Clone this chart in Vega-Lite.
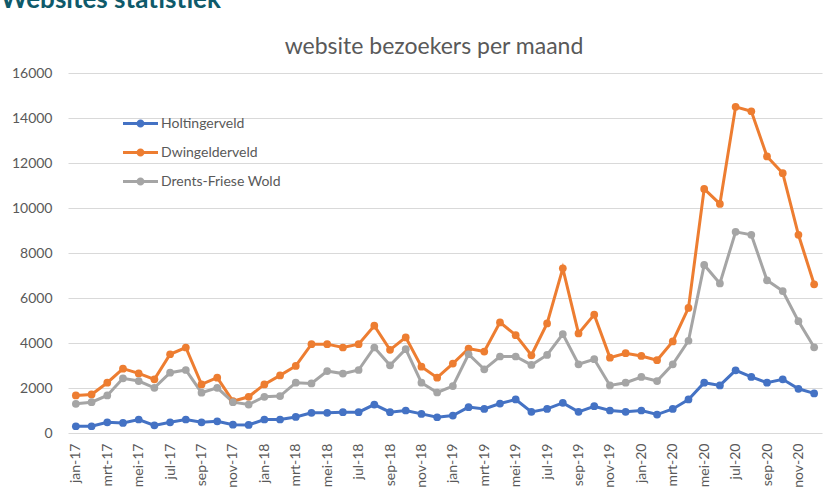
{
  "$schema": "https://vega.github.io/schema/vega-lite/v6.json",
  "autosize": {"type": "none"},
  "padding": {"left": 68, "top": 73, "right": 16, "bottom": 62},
  "width": 754,
  "height": 360,
  "background": "white",
  "title": {
    "text": "website bezoekers per maand",
    "font": "Lato",
    "fontSize": 23,
    "fontWeight": "normal",
    "color": "#595959",
    "anchor": "middle",
    "frame": "group",
    "baseline": "alphabetic",
    "offset": 0,
    "dy": 91,
    "dx": -11
  },
  "config": {
    "view": {"stroke": null},
    "font": "Lato"
  },
  "data": {
    "values": [
      {"maand": "jan-17", "Holtingerveld": 300, "Dwingelderveld": 1670, "Drents-Friese Wold": 1295},
      {"maand": "feb-17", "Holtingerveld": 300, "Dwingelderveld": 1715, "Drents-Friese Wold": 1370},
      {"maand": "mrt-17", "Holtingerveld": 475, "Dwingelderveld": 2235, "Drents-Friese Wold": 1670},
      {"maand": "apr-17", "Holtingerveld": 450, "Dwingelderveld": 2860, "Drents-Friese Wold": 2430},
      {"maand": "mei-17", "Holtingerveld": 600, "Dwingelderveld": 2650, "Drents-Friese Wold": 2310},
      {"maand": "jun-17", "Holtingerveld": 340, "Dwingelderveld": 2385, "Drents-Friese Wold": 2010},
      {"maand": "jul-17", "Holtingerveld": 475, "Dwingelderveld": 3500, "Drents-Friese Wold": 2680},
      {"maand": "aug-17", "Holtingerveld": 600, "Dwingelderveld": 3800, "Drents-Friese Wold": 2800},
      {"maand": "sep-17", "Holtingerveld": 475, "Dwingelderveld": 2160, "Drents-Friese Wold": 1790},
      {"maand": "okt-17", "Holtingerveld": 520, "Dwingelderveld": 2460, "Drents-Friese Wold": 2010},
      {"maand": "nov-17", "Holtingerveld": 370, "Dwingelderveld": 1415, "Drents-Friese Wold": 1370},
      {"maand": "dec-17", "Holtingerveld": 360, "Dwingelderveld": 1610, "Drents-Friese Wold": 1265},
      {"maand": "jan-18", "Holtingerveld": 600, "Dwingelderveld": 2160, "Drents-Friese Wold": 1610},
      {"maand": "feb-18", "Holtingerveld": 600, "Dwingelderveld": 2560, "Drents-Friese Wold": 1640},
      {"maand": "mrt-18", "Holtingerveld": 715, "Dwingelderveld": 2980, "Drents-Friese Wold": 2235},
      {"maand": "apr-18", "Holtingerveld": 895, "Dwingelderveld": 3950, "Drents-Friese Wold": 2205},
      {"maand": "mei-18", "Holtingerveld": 895, "Dwingelderveld": 3950, "Drents-Friese Wold": 2755},
      {"maand": "jun-18", "Holtingerveld": 925, "Dwingelderveld": 3800, "Drents-Friese Wold": 2640},
      {"maand": "jul-18", "Holtingerveld": 925, "Dwingelderveld": 3950, "Drents-Friese Wold": 2800},
      {"maand": "aug-18", "Holtingerveld": 1265, "Dwingelderveld": 4770, "Drents-Friese Wold": 3800},
      {"maand": "sep-18", "Holtingerveld": 925, "Dwingelderveld": 3695, "Drents-Friese Wold": 3010},
      {"maand": "okt-18", "Holtingerveld": 1000, "Dwingelderveld": 4250, "Drents-Friese Wold": 3725},
      {"maand": "nov-18", "Holtingerveld": 850, "Dwingelderveld": 2950, "Drents-Friese Wold": 2235},
      {"maand": "dec-18", "Holtingerveld": 700, "Dwingelderveld": 2460, "Drents-Friese Wold": 1800},
      {"maand": "jan-19", "Holtingerveld": 775, "Dwingelderveld": 3085, "Drents-Friese Wold": 2085},
      {"maand": "feb-19", "Holtingerveld": 1150, "Dwingelderveld": 3755, "Drents-Friese Wold": 3500},
      {"maand": "mrt-19", "Holtingerveld": 1070, "Dwingelderveld": 3620, "Drents-Friese Wold": 2830},
      {"maand": "apr-19", "Holtingerveld": 1310, "Dwingelderveld": 4915, "Drents-Friese Wold": 3400},
      {"maand": "mei-19", "Holtingerveld": 1490, "Dwingelderveld": 4350, "Drents-Friese Wold": 3400},
      {"maand": "jun-19", "Holtingerveld": 940, "Dwingelderveld": 3455, "Drents-Friese Wold": 3025},
      {"maand": "jul-19", "Holtingerveld": 1070, "Dwingelderveld": 4870, "Drents-Friese Wold": 3470},
      {"maand": "aug-19", "Holtingerveld": 1340, "Dwingelderveld": 7320, "Drents-Friese Wold": 4395},
      {"maand": "sep-19", "Holtingerveld": 940, "Dwingelderveld": 4425, "Drents-Friese Wold": 3055},
      {"maand": "okt-19", "Holtingerveld": 1190, "Dwingelderveld": 5260, "Drents-Friese Wold": 3280},
      {"maand": "nov-19", "Holtingerveld": 1000, "Dwingelderveld": 3350, "Drents-Friese Wold": 2115},
      {"maand": "dec-19", "Holtingerveld": 940, "Dwingelderveld": 3545, "Drents-Friese Wold": 2235},
      {"maand": "jan-20", "Holtingerveld": 1000, "Dwingelderveld": 3425, "Drents-Friese Wold": 2490},
      {"maand": "feb-20", "Holtingerveld": 820, "Dwingelderveld": 3235, "Drents-Friese Wold": 2310},
      {"maand": "mrt-20", "Holtingerveld": 1070, "Dwingelderveld": 4070, "Drents-Friese Wold": 3055},
      {"maand": "apr-20", "Holtingerveld": 1490, "Dwingelderveld": 5560, "Drents-Friese Wold": 4100},
      {"maand": "mei-20", "Holtingerveld": 2235, "Dwingelderveld": 10850, "Drents-Friese Wold": 7470},
      {"maand": "jun-20", "Holtingerveld": 2115, "Dwingelderveld": 10180, "Drents-Friese Wold": 6650},
      {"maand": "jul-20", "Holtingerveld": 2785, "Dwingelderveld": 14495, "Drents-Friese Wold": 8940},
      {"maand": "aug-20", "Holtingerveld": 2490, "Dwingelderveld": 14300, "Drents-Friese Wold": 8810},
      {"maand": "sep-20", "Holtingerveld": 2235, "Dwingelderveld": 12290, "Drents-Friese Wold": 6785},
      {"maand": "okt-20", "Holtingerveld": 2385, "Dwingelderveld": 11550, "Drents-Friese Wold": 6310},
      {"maand": "nov-20", "Holtingerveld": 1965, "Dwingelderveld": 8810, "Drents-Friese Wold": 4970},
      {"maand": "dec-20", "Holtingerveld": 1760, "Dwingelderveld": 6610, "Drents-Friese Wold": 3810}
    ]
  },
  "transform": [
    {"fold": ["Holtingerveld", "Dwingelderveld", "Drents-Friese Wold"], "as": ["gebied", "bezoekers"]}
  ],
  "mark": {"type": "line", "strokeWidth": 3, "point": {"filled": true, "size": 60}},
  "encoding": {
    "x": {
      "field": "maand",
      "type": "ordinal",
      "sort": null,
      "title": null,
      "axis": {
        "values": ["jan-17","mrt-17","mei-17","jul-17","sep-17","nov-17","jan-18","mrt-18","mei-18","jul-18","sep-18","nov-18","jan-19","mrt-19","mei-19","jul-19","sep-19","nov-19","jan-20","mrt-20","mei-20","jul-20","sep-20","nov-20"],
        "labelAngle": -90,
        "labelAlign": "right",
        "labelBaseline": "middle",
        "labelFont": "Lato",
        "labelFontSize": 14,
        "labelColor": "#595959",
        "labelPadding": 10,
        "ticks": false,
        "domain": false,
        "grid": false
      }
    },
    "y": {
      "field": "bezoekers",
      "type": "quantitative",
      "scale": {"domain": [0, 16000], "nice": false},
      "axis": {
        "values": [0, 2000, 4000, 6000, 8000, 10000, 12000, 14000, 16000],
        "format": "d",
        "title": "Websites statistiek",
        "titleAngle": 0,
        "titleAlign": "left",
        "titleBaseline": "alphabetic",
        "titleX": -68,
        "titleY": -66,
        "titleFont": "Lato",
        "titleFontSize": 26,
        "titleFontWeight": "bold",
        "titleColor": "#0f5a6a",
        "labelFont": "Lato",
        "labelFontSize": 14,
        "labelColor": "#595959",
        "labelPadding": 16,
        "ticks": false,
        "domain": false,
        "gridColor": "#d9d9d9",
        "gridWidth": 1
      }
    },
    "color": {
      "field": "gebied",
      "type": "nominal",
      "sort": ["Holtingerveld", "Dwingelderveld", "Drents-Friese Wold"],
      "scale": {
        "domain": ["Holtingerveld", "Dwingelderveld", "Drents-Friese Wold"],
        "range": ["#4472c4", "#ed7d31", "#a5a5a5"]
      },
      "legend": {
        "title": null,
        "orient": "none",
        "legendX": 55,
        "legendY": 33,
        "symbolType": "M-1,-0.085L1,-0.085L1,0.085L-1,0.085Z M-0.23,0A0.23,0.23,0,1,1,0.23,0A0.23,0.23,0,1,1,-0.23,0Z",
        "symbolSize": 1225,
        "symbolStrokeWidth": 0,
        "labelFont": "Lato",
        "labelFontSize": 14,
        "labelColor": "#595959",
        "labelOffset": 3,
        "rowPadding": 4,
        "encode": {
          "symbols": {
            "update": {
              "fill": {"scale": "color", "field": "value"},
              "stroke": {"value": "transparent"},
              "opacity": {"value": 1}
            }
          }
        }
      }
    }
  }
}
